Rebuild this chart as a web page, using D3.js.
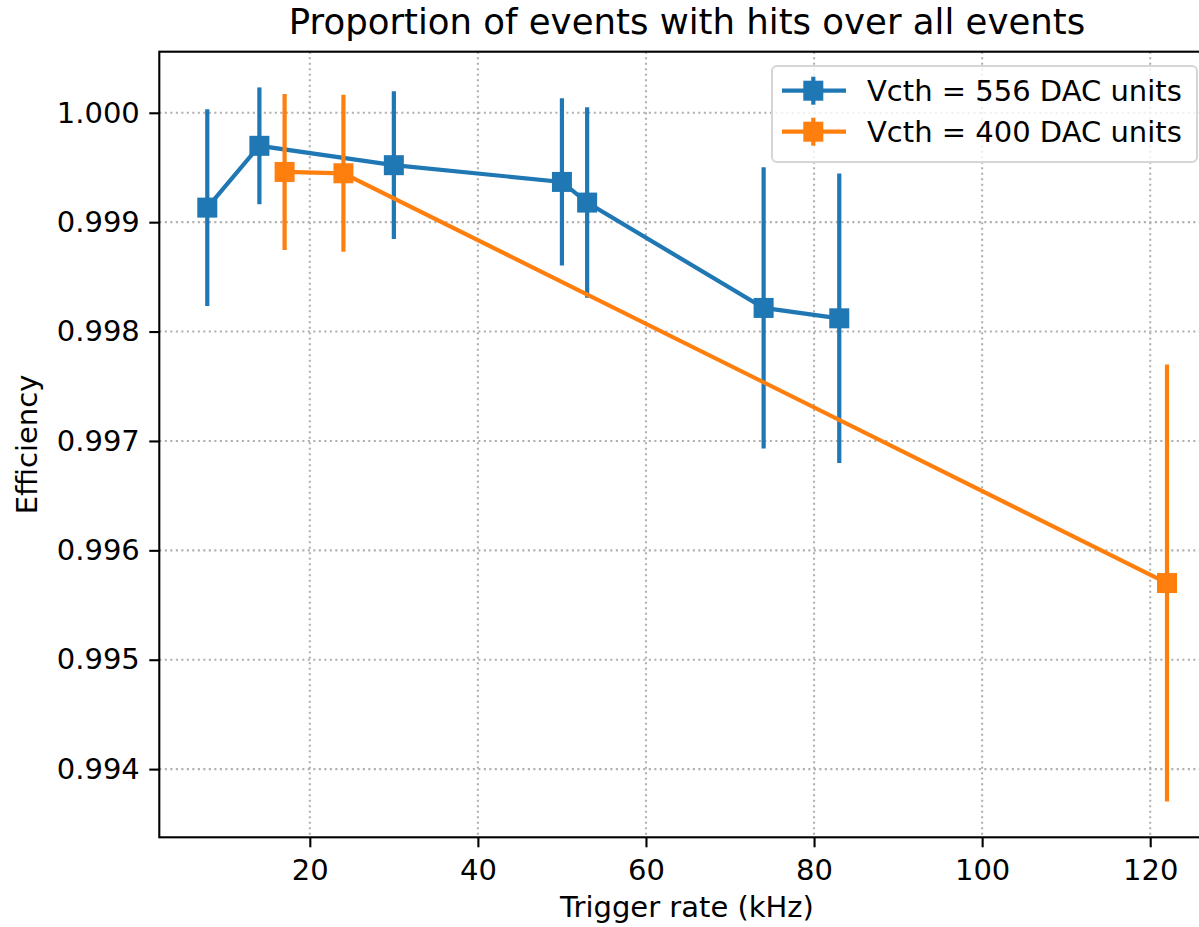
<!DOCTYPE html>
<html>
<head>
<meta charset="utf-8">
<script src="https://cdn.jsdelivr.net/npm/d3@7"></script>
<style>
  body { margin: 0; background: #fff; }
  svg { display: block; font-family: "DejaVu Sans", sans-serif; }
</style>
</head>
<body>
<div id="chart"></div>
<script>
// trigger rate (kHz), efficiency and its error, per threshold setting
const rate556 = [7.8, 14.0, 30.0, 50.0, 53.0, 74.0, 83.0];
const eff556 = [0.999133, 0.999698, 0.999521, 0.999368, 0.999179, 0.998216, 0.998121];
const err556 = [0.000900, 0.000534, 0.000675, 0.000765, 0.000871, 0.001286, 0.001323];

const rate400 = [17.0, 24.0, 122.0];
const eff400 = [0.999459, 0.999447, 0.995701];
const err400 = [0.000713, 0.000718, 0.001998];

const seriesNames = ['Vcth = 556 DAC units', 'Vcth = 400 DAC units'];
const xTicks = [20, 40, 60, 80, 100, 120];
const yTicks = [0.994, 0.995, 0.996, 0.997, 0.998, 0.999, 1.000];

const width = 1199;
const height = 927;
const margin = { top: 51.7, left: 159.3, bottom: 89.7 };
const plotRight = 1215;
const fontSize = '29px';

const series = [
  { name: seriesNames[0], color: '#1f77b4', x: rate556, y: eff556, e: err556 },
  { name: seriesNames[1], color: '#ff7f0e', x: rate400, y: eff400, e: err400 }
];

// autoscale like matplotlib: data extent plus 5% each side
const allX = rate556.concat(rate400);
const allLo = series.flatMap(s => s.y.map((v, i) => v - s.e[i]));
const allHi = series.flatMap(s => s.y.map((v, i) => v + s.e[i]));
const pad = (lo, hi) => { const m = (hi - lo) * 0.05; return [lo - m, hi + m]; };

const x = d3.scaleLinear()
  .domain(pad(d3.min(allX), d3.max(allX)))
  .range([margin.left, plotRight]);
const y = d3.scaleLinear()
  .domain(pad(d3.min(allLo), d3.max(allHi)))
  .range([height - margin.bottom, margin.top]);

const svg = d3.select('#chart').append('svg')
  .attr('width', width)
  .attr('height', height);

const plotH = height - margin.bottom - margin.top;

// grid
const grid = svg.append('g')
  .attr('stroke', '#b0b0b0')
  .attr('stroke-width', 2.1)
  .attr('stroke-dasharray', '2.1,3.4');
grid.selectAll('.gx').data(xTicks).enter().append('line')
  .attr('x1', d => x(d)).attr('x2', d => x(d))
  .attr('y1', margin.top).attr('y2', margin.top + plotH);
grid.selectAll('.gy').data(yTicks).enter().append('line')
  .attr('x1', margin.left).attr('x2', plotRight)
  .attr('y1', d => y(d)).attr('y2', d => y(d));

// series: line, then error bars, then markers
const line = d3.line().x(d => x(d[0])).y(d => y(d[1]));
series.forEach(s => {
  const pts = s.x.map((v, i) => [v, s.y[i], s.e[i]]);
  const g = svg.append('g');
  g.append('path')
    .datum(pts)
    .attr('d', line)
    .attr('fill', 'none')
    .attr('stroke', s.color)
    .attr('stroke-width', 4.2);
  g.selectAll('.err').data(pts).enter().append('line')
    .attr('x1', d => x(d[0])).attr('x2', d => x(d[0]))
    .attr('y1', d => y(d[1] - d[2])).attr('y2', d => y(d[1] + d[2]))
    .attr('stroke', s.color)
    .attr('stroke-width', 4.2);
  g.selectAll('.mk').data(pts).enter().append('rect')
    .attr('x', d => x(d[0]) - 10).attr('y', d => y(d[1]) - 10)
    .attr('width', 20).attr('height', 20)
    .attr('fill', s.color);
});

// axes
const xAxis = svg.append('g')
  .attr('transform', `translate(0,${height - margin.bottom})`)
  .call(d3.axisBottom(x).tickValues(xTicks).tickSize(10).tickPadding(12))
  .style('font-size', fontSize);
const yAxis = svg.append('g')
  .attr('transform', `translate(${margin.left},0)`)
  .call(d3.axisLeft(y).tickValues(yTicks).tickFormat(d3.format('.3f')).tickSize(10).tickPadding(9.5))
  .style('font-size', fontSize);
[xAxis, yAxis].forEach(a => {
  a.select('.domain').remove();
  a.selectAll('.tick line').attr('stroke', '#000').attr('stroke-width', 2.1);
  a.selectAll('.tick text').attr('fill', '#000').style('font-family', '"DejaVu Sans", sans-serif');
});

// spines
svg.append('rect')
  .attr('x', margin.left).attr('y', margin.top)
  .attr('width', plotRight - margin.left).attr('height', plotH)
  .attr('fill', 'none')
  .attr('stroke', '#000')
  .attr('stroke-width', 2.1);

// labels
svg.append('text')
  .attr('x', 687).attr('y', 34.3)
  .attr('text-anchor', 'middle')
  .style('font-size', '35.5px')
  .text('Proportion of events with hits over all events');
svg.append('text')
  .attr('x', 687).attr('y', 916.7)
  .attr('text-anchor', 'middle')
  .style('font-size', fontSize)
  .text('Trigger rate (kHz)');
svg.append('text')
  .attr('transform', `translate(37,${margin.top + plotH / 2}) rotate(-90)`)
  .attr('text-anchor', 'middle')
  .style('font-size', fontSize)
  .text('Efficiency');

// legend
const legend = svg.append('g');
legend.append('rect')
  .attr('x', 772).attr('y', 66)
  .attr('width', 425).attr('height', 96)
  .attr('rx', 5)
  .attr('fill', '#fff').attr('fill-opacity', 0.8)
  .attr('stroke', '#d5d5d5').attr('stroke-width', 2);
const rows = legend.selectAll('.row').data(series).enter().append('g')
  .attr('transform', (d, i) => `translate(0,${90.7 + i * 41})`);
rows.append('line')
  .attr('x1', 782).attr('x2', 846).attr('y1', 0).attr('y2', 0)
  .attr('stroke', d => d.color).attr('stroke-width', 4.2);
rows.append('line')
  .attr('x1', 813.3).attr('x2', 813.3).attr('y1', -14).attr('y2', 14)
  .attr('stroke', d => d.color).attr('stroke-width', 4.2);
rows.append('rect')
  .attr('x', 803.3).attr('y', -10).attr('width', 20).attr('height', 20)
  .attr('fill', d => d.color);
rows.append('text')
  .attr('x', 867).attr('y', 10.5)
  .style('font-size', fontSize)
  .text(d => d.name);
</script>
</body>
</html>
